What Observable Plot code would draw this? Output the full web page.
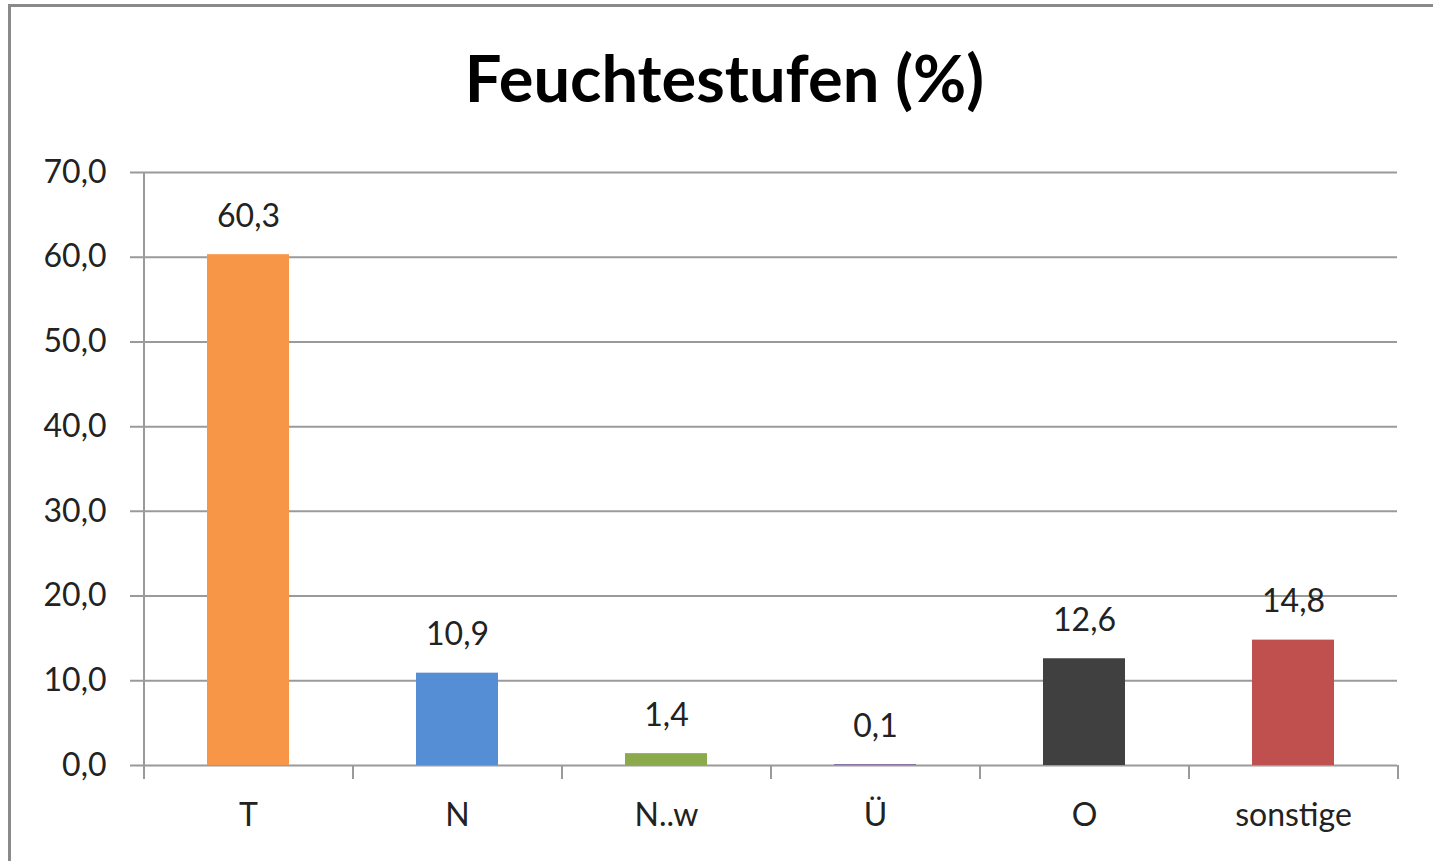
<!DOCTYPE html>
<html>
<head>
<meta charset="utf-8">
<script src="https://cdn.jsdelivr.net/npm/d3@7"></script>
<script src="https://cdn.jsdelivr.net/npm/@observablehq/plot@0.6"></script>
<style>
  html, body { margin: 0; padding: 0; background: #fff; overflow: hidden; width: 1433px; height: 861px; }
  #frame { position: absolute; left: 8px; top: 4px; width: 1450px; height: 900px; border: 3px solid #8a8a8a; box-sizing: border-box; }
  #title { position: absolute; left: 0; width: 1449px; top: 45px; text-align: center; font-family: Lato, "Open Sans", sans-serif; font-weight: bold; font-size: 65px; color: #000; line-height: 1; }
  #chart { position: absolute; left: 0; top: 140px; }
</style>
</head>
<body>
<div id="frame"></div>
<div id="title">Feuchtestufen (%)</div>
<div id="chart"></div>
<script>
const categories = ["T", "N", "N..w", "Ü", "O", "sonstige"];
const values = [60.3, 10.9, 1.4, 0.1, 12.6, 14.8];
const colors = ["#F79646", "#558ED5", "#8AAA4B", "#8064A2", "#404040", "#C0504D"];
const yTicks = [0, 10, 20, 30, 40, 50, 60, 70];

const data = categories.map((c, i) => ({cat: c, value: values[i], color: colors[i]}));
const fmt = d => d.toFixed(1).replace(".", ",");

const W = 1433, H = 721;
const mL = 143, mR = 36, mT = 32, mB = 96;
const step = (W - mL - mR) / categories.length;
const font = "Lato, 'Open Sans', sans-serif";
const grid = "#9a9a9a";
const fs = 32;

const chart = Plot.plot({
  width: W,
  height: H,
  marginLeft: mL,
  marginRight: mR,
  marginTop: mT,
  marginBottom: mB,
  style: {fontFamily: font, fontSize: fs + "px", color: "#222", background: "transparent"},
  x: {domain: categories, paddingInner: 0.61, paddingOuter: 0.305, label: null},
  y: {domain: [0, 70], label: null},
  marks: [
    Plot.ruleY(yTicks, {y: d => d, stroke: grid, strokeWidth: 2, insetLeft: -13}),
    Plot.ruleX([categories[0]], {x: d => d, dx: -step / 2, y1: () => 0, y2: () => 70, stroke: grid, strokeWidth: 2}),
    Plot.ruleX(categories, {x: d => d, dx: -step / 2, y1: () => 0, y2: () => 0, stroke: grid, strokeWidth: 2, insetBottom: -14}),
    Plot.ruleX([categories[categories.length - 1]], {x: d => d, dx: step / 2, y1: () => 0, y2: () => 0, stroke: grid, strokeWidth: 2, insetBottom: -14}),
    Plot.barY(data, {x: "cat", y: "value", fill: "color"}),
    Plot.text(data, {x: "cat", y: "value", text: d => fmt(d.value), dy: -38, lineAnchor: "middle", fontSize: fs, fill: "#222"}),
    Plot.axisY(yTicks, {tickSize: 0, tickPadding: 37, tickFormat: fmt, fontSize: fs, fill: "#222"}),
    Plot.axisX({tickSize: 0, tickPadding: 38, fontSize: fs, fill: "#222"})
  ]
});
document.getElementById("chart").appendChild(chart);
</script>
</body>
</html>
